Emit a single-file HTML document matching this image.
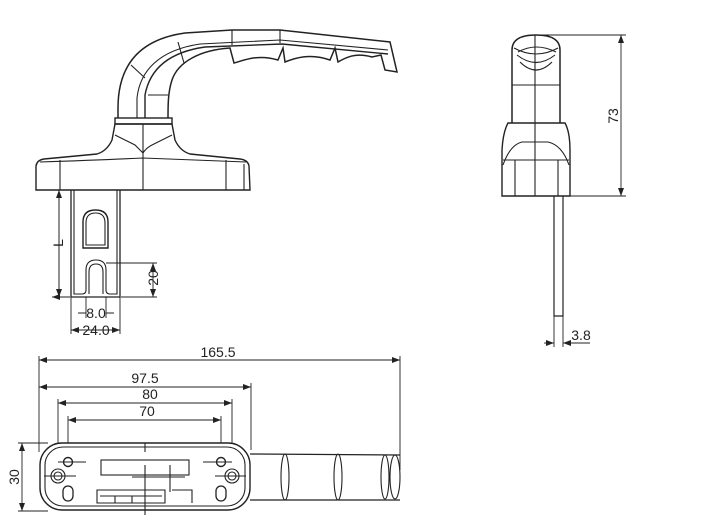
<!DOCTYPE html>
<html><head><meta charset="utf-8"><style>
html,body{margin:0;padding:0;background:#fff;}
svg{display:block}
text{font-family:"Liberation Sans",sans-serif;fill:#222;font-size:14px}
</style></head><body>
<svg width="706" height="528" viewBox="0 0 706 528" xmlns="http://www.w3.org/2000/svg">
<defs>
<marker id="a" markerWidth="8" markerHeight="6" refX="8" refY="3" orient="auto-start-reverse" markerUnits="userSpaceOnUse"><path d="M0,0 L8,3 L0,6 Z" fill="#222"/></marker>
</defs>
<g fill="none" stroke="#222" stroke-width="1.1">
<!-- FRONT VIEW -->
<path d="M118,118 L118,108 C118,70 135,40 185,33 L232,30 L280,30 L390,42 L397,72 L385,70 L381,55 L372,57 C355,52 345,58 338,62 L335,48 L330,60 C310,53 295,58 285,62 L283,48 L278,60 C258,54 245,60 234,63 L230,48 C200,50 178,62 172,80 C168,92 168,105 168,118" stroke-width="1.5"/>
<path d="M137,118 L137,98 C140,70 160,50 200,44 L280,40 L388,50"/>
<path d="M145,118 L145,95 C150,68 170,52 205,47 L282,44 L388,54" stroke-width="1.4"/>
<path d="M131,65 L145,78 M178,42 L184,63 M232,30 L232,45 M280,30 L280,43"/>
<path d="M148,95 L168,95"/>
<rect x="115" y="118" width="57" height="6" stroke-width="1.4"/>
<path d="M36,190 L36,166 Q37,160 44,159 L97,154 Q107,151 112,140 L115,124 L172,124 L175,140 Q180,151 190,154 L240,159 Q248,160 249,166 L250,190 Z" stroke-width="1.4"/>
<path d="M115,135 Q125,140 135,145 Q140,150 143,153 Q146,148 152,145 Q162,140 172,135"/>
<path d="M40,162 Q100,160 143,158 Q190,160 246,162"/>
<path d="M60,160 L60,190 M226,160 L226,190 M143,124 L143,190 M244,164 L244,190"/>
<!-- spindle plate -->
<path d="M71,190 L71,297 L120,297 L120,190" stroke-width="1.3"/>
<path d="M74,190 L74,294 L82,294 Q86,294 86,290 L86,270 Q86,260 96,260 Q106,260 106,270 L106,290 Q106,294 110,294 L117,294 L117,190"/>
<path d="M89,294 L89,272 Q89,264 96,264 Q103,264 103,272 L103,294"/>
<path d="M83,248 L83,222 Q83,210 95.5,210 Q108,210 108,222 L108,248 Z" stroke-width="1.4"/>
<path d="M86,245 L86,223 Q86,213 95.5,213 Q105,213 105,223 L105,245 Z"/>
<!-- dims front -->
<path d="M52,297 L70,297 M59,190 L59,297" marker-start="url(#a)" stroke-width="0.9"/>
<path d="M59,190 L59,297" marker-start="url(#a)" marker-end="url(#a)" stroke-width="0.9"/>
<path d="M106,263 L157,263 M121,297 L157,297" stroke-width="0.9"/>
<path d="M153,263 L153,297" marker-start="url(#a)" marker-end="url(#a)" stroke-width="0.9"/>
<path d="M86,297 L86,318 M106,297 L106,318 M71,297 L71,334 M120,297 L120,334" stroke-width="0.9"/>
<path d="M78,313 L86,313 M106,313 L114,313" stroke-width="0.9"/>
<path d="M71,330 L120,330" marker-start="url(#a)" marker-end="url(#a)" stroke-width="0.9"/>
<!-- SIDE VIEW -->
<path d="M512,123 L512,50 Q512,35 536,35 Q560,35 560,50 L560,123" stroke-width="1.5"/>
<path d="M514,48 Q536,60 558,48 M517,55 Q536,70 555,55 M520,62 Q536,78 552,62 M518,52 Q536,42 556,52"/>
<path d="M512,85 L560,85 M535,35 L535,196"/>
<path d="M502,196 L502,150 Q503,132 508,123 L565,123 Q570,132 570,150 L570,196 Z" stroke-width="1.4"/>
<path d="M503,165 Q510,145 522,142 L548,142 Q562,145 569,165 M503,160 L569,160 M515,160 L515,196 M558,160 L558,196"/>
<path d="M554,196 L554,316 L563,316 L563,196" stroke-width="1.2"/>
<path d="M535,35 L626,35 M570,196 L626,196" stroke-width="0.9"/>
<path d="M621,35 L621,196" marker-start="url(#a)" marker-end="url(#a)" stroke-width="0.9"/>
<path d="M554,316 L554,347 M563,316 L563,347" stroke-width="0.9"/>
<path d="M544,343 L554,343" marker-end="url(#a)" stroke-width="0.9"/>
<path d="M590,343 L563,343" marker-end="url(#a)" stroke-width="0.9"/>
<!-- TOP VIEW -->
<path d="M39,356 L39,452 M400,356 L400,470 M251,383 L251,450 M58,399 L58,470 M232,399 L232,470 M68,416 L68,470 M221,416 L221,470" stroke-width="0.9"/>
<path d="M39,360 L400,360" marker-start="url(#a)" marker-end="url(#a)" stroke-width="0.9"/>
<path d="M39,387 L251,387" marker-start="url(#a)" marker-end="url(#a)" stroke-width="0.9"/>
<path d="M58,403 L232,403" marker-start="url(#a)" marker-end="url(#a)" stroke-width="0.9"/>
<path d="M68,420 L221,420" marker-start="url(#a)" marker-end="url(#a)" stroke-width="0.9"/>
<path d="M18,443 L48,443 M18,511 L48,511" stroke-width="0.9"/>
<path d="M22,443 L22,511" marker-start="url(#a)" marker-end="url(#a)" stroke-width="0.9"/>
<path d="M250,454 L400,455 M250,500 L400,500" stroke-width="1.3"/>
<ellipse cx="285" cy="477" rx="4" ry="23"/>
<ellipse cx="338" cy="477" rx="4" ry="23"/>
<ellipse cx="385" cy="477" rx="4" ry="22"/>
<ellipse cx="395" cy="477" rx="5" ry="22"/>
<rect x="40" y="443" width="210" height="67" rx="22" fill="#fff" stroke-width="1.4"/>
<rect x="45" y="447" width="200" height="59" rx="18"/>
<circle cx="68" cy="462" r="4.5" stroke-width="1.4"/><circle cx="221" cy="462" r="4.5" stroke-width="1.4"/>
<circle cx="58" cy="476" r="7"/><circle cx="58" cy="476" r="4"/>
<circle cx="232" cy="476" r="7"/><circle cx="232" cy="476" r="4"/>
<rect x="63" y="486" width="10" height="15" rx="5" stroke-width="1.3"/>
<rect x="216" y="486" width="10" height="15" rx="5" stroke-width="1.3"/>
<rect x="101" y="460" width="88" height="15"/>
<path d="M132,477 L185,477 M145,465 L145,515 M170,465 L170,492 M145,443 L145,452 M58,462 L86,462 M203,462 L232,462 M44,476 L76,476 M215,476 L246,476"/>
<path d="M97,490 L165,490 L165,503 L97,503 Z M172,490 L192,490 L192,503 M100,496 L162,496 M115,496 L115,503 M132,496 L132,503"/>
</g>
<g>
<text x="218" y="357" text-anchor="middle">165.5</text>
<text x="145" y="383" text-anchor="middle">97.5</text>
<text x="150" y="399" text-anchor="middle">80</text>
<text x="147" y="416" text-anchor="middle">70</text>
<text transform="translate(19,477) rotate(-90)" text-anchor="middle">30</text>
<text transform="translate(63,243) rotate(-90)" text-anchor="middle" font-size="13">L</text>
<text transform="translate(158,278) rotate(-90)" text-anchor="middle" font-size="13">20</text>
<text x="96" y="318" text-anchor="middle" font-size="13">8.0</text>
<text x="96" y="335" text-anchor="middle" font-size="13">24.0</text>
<text transform="translate(618,116) rotate(-90)" text-anchor="middle">73</text>
<text x="581" y="340" text-anchor="middle">3.8</text>
</g>
</svg>
</body></html>
